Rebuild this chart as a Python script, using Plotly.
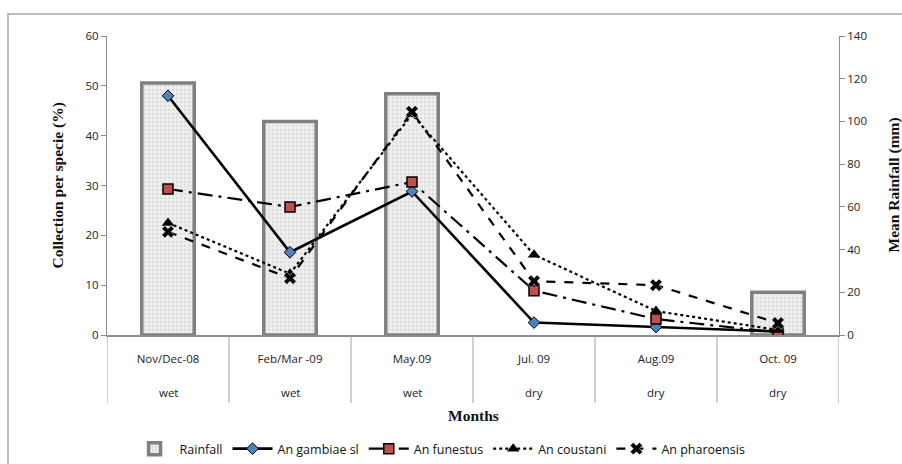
import plotly.graph_objects as go

months = ["Nov/Dec-08", "Feb/Mar -09", "May.09", "Jul. 09", "Aug.09", "Oct. 09"]
seasons = ["wet", "wet", "wet", "dry", "dry", "dry"]
rainfall = [118, 100, 113, 0, 0, 20]
gambiae = [48.0, 16.6, 28.8, 2.5, 1.6, 0.7]
funestus = [29.3, 25.7, 30.7, 8.9, 3.2, 0.5]
coustani = [22.5, 12.3, 44.3, 16.1, 4.8, 1.0]
pharoensis = [20.7, 11.4, 44.8, 10.8, 10.0, 2.4]

L, R, T, B = 107, 63, 36, 129
W, H = 902, 464
pw, ph = W - L - R, H - T - B

def px_x(p):
    return (p - L) / pw

def px_y(p):
    return (H - B - p) / ph

tickfont = dict(family="Open Sans, Liberation Sans, Arial", size=11.5, color="#222")
titlefont = dict(family="Liberation Serif, DejaVu Serif, serif", size=15.5, color="#111")

fig = go.Figure()
fig.add_trace(go.Bar(
    x=months, y=[v if v > 0 else None for v in rainfall], name="Rainfall", yaxis="y", width=0.43,
    marker=dict(color="#ececec", line=dict(color="#808080", width=3.5),
                pattern=dict(shape=".", fgcolor="#c8c8c8", bgcolor="#eeeeee", size=4, solidity=0.25)),
))
fig.add_trace(go.Scatter(
    x=months, y=gambiae, name="An gambiae sl", yaxis="y2", mode="lines+markers",
    line=dict(color="black", width=2.6),
    marker=dict(symbol="diamond", size=9, color="#4f81bd", line=dict(color="black", width=1)),
))
fig.add_trace(go.Scatter(
    x=months, y=funestus, name="An funestus", yaxis="y2", mode="lines+markers",
    line=dict(color="black", width=2.2, dash="longdashdot"),
    marker=dict(symbol="square", size=10, color="#c0504d", line=dict(color="black", width=1.5)),
))
fig.add_trace(go.Scatter(
    x=months, y=coustani, name="An coustani", yaxis="y2", mode="lines+markers",
    line=dict(color="black", width=2.2, dash="dot"),
    marker=dict(symbol="triangle-up", size=11, color="black"),
))
fig.add_trace(go.Scatter(
    x=months, y=pharoensis, name="An pharoensis", yaxis="y2", mode="lines+markers",
    line=dict(color="black", width=2.2, dash="dash"),
    marker=dict(symbol="x", size=11, color="black", line=dict(color="white", width=0.5)),
))

shapes = []
for i in range(len(months) + 1):
    shapes.append(dict(type="line", xref="x", yref="paper", x0=i - 0.5, x1=i - 0.5,
                       y0=0, y1=px_y(403), line=dict(color="#a0a0a0", width=1)))
shapes.append(dict(type="rect", xref="paper", yref="paper", x0=px_x(8), x1=1.3,
                   y0=-0.6, y1=px_y(14), line=dict(color="#a6a6a6", width=1.5)))

annotations = []
for m, s in zip(months, seasons):
    annotations.append(dict(x=m, y=px_y(392), xref="x", yref="paper", text=s,
                            showarrow=False, font=tickfont, yanchor="middle"))
annotations.append(dict(x=0.5, y=px_y(415), xref="paper", yref="paper", text="<b>Months</b>",
                        showarrow=False, font=titlefont, yanchor="middle"))
annotations.append(dict(x=px_x(57), y=0.5, xref="paper", yref="paper",
                        text="<b>Collection per specie (%)</b>", textangle=-90,
                        showarrow=False, font=titlefont, xanchor="center", yanchor="middle"))
annotations.append(dict(x=px_x(893), y=0.5, xref="paper", yref="paper",
                        text="<b>Mean Rainfall (mm)</b>", textangle=-90,
                        showarrow=False, font=titlefont, xanchor="center", yanchor="middle"))

fig.update_layout(
    width=W, height=H, margin=dict(l=L, r=R, t=T, b=B, autoexpand=False),
    paper_bgcolor="white", plot_bgcolor="white",
    showlegend=True, barmode="overlay",
    xaxis=dict(type="category", range=[-0.5, 5.5], showline=True, linecolor="#8c8c8c", linewidth=1.5,
               ticks="outside", ticklen=12, tickcolor="rgba(0,0,0,0)", tickfont=tickfont,
               showgrid=False, zeroline=False, automargin=False),
    yaxis=dict(side="right", range=[0, 140], dtick=20, showline=True, linecolor="#8c8c8c",
               ticks="outside", ticklen=5, tickcolor="#8c8c8c", tickfont=tickfont, showgrid=False,
               zeroline=False, automargin=False),
    yaxis2=dict(side="left", overlaying="y", range=[0, 60], dtick=10, showline=True,
                linecolor="#8c8c8c", ticks="outside", ticklen=5, tickcolor="#8c8c8c",
                tickfont=tickfont, showgrid=False, zeroline=False, automargin=False),
    legend=dict(orientation="h", x=0.455, xanchor="center", y=px_y(449), yanchor="middle",
                font=dict(family="Open Sans, Liberation Sans, Arial", size=12.5, color="#111"),
                itemwidth=40, tracegroupgap=0, bgcolor="rgba(0,0,0,0)"),
    shapes=shapes, annotations=annotations,
)

fig.write_html("out.html", config={"displayModeBar": False},
               post_script="document.body.style.margin='0';document.body.style.overflow='hidden';")
